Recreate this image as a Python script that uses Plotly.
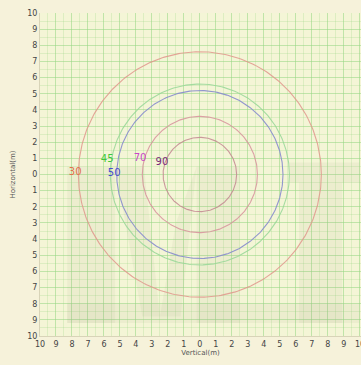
import numpy as np
import plotly.graph_objects as go

# Data
angles_deg = ["30", "45", "50", "70", "90"]
radii = [7.6, 5.6, 5.2, 3.6, 2.3]
circle_colors = ["rgba(225,150,140,0.85)", "rgba(150,215,150,0.85)", "rgba(135,140,205,0.9)",
                 "rgba(215,145,155,0.85)", "rgba(195,135,145,0.85)"]
label_x = [-7.8, -5.8, -5.36, -3.74, -2.37]
label_y = [0.1, 0.93, 0.06, 1.0, 0.75]
label_colors = ["#e0704a", "#3cc83c", "#4a4ad0", "#c848c8", "#7a2a7a"]
tick_vals = list(range(-10, 11))
tick_text = [str(abs(v)) for v in tick_vals]

fig = go.Figure()
theta = np.linspace(0, 2 * np.pi, 361)
for r, c in zip(radii, circle_colors):
    fig.add_trace(go.Scatter(x=r * np.cos(theta), y=r * np.sin(theta), mode="lines",
                             line=dict(color=c, width=1.1), hoverinfo="skip", showlegend=False))

fig.add_trace(go.Scatter(x=label_x, y=label_y, mode="text", text=angles_deg,
                         textfont=dict(color=label_colors, size=10, family="DejaVu Sans"),
                         showlegend=False, hoverinfo="skip"))

# faint watermark ("MT")
wm = "rgba(140,140,120,0.07)"
wm_paths = [
    "M -8.3 0.5 L -5.3 0.5 L -5.3 -9.2 L -8.3 -9.2 Z",
    "M -5.3 0.5 L -3.5 0.5 L -2.5 -8.8 L -3.6 -8.8 Z",
    "M -0.2 0.5 L 2.5 0.5 L 2.5 -9.2 L -0.2 -9.2 Z",
    "M -0.2 0.5 L -1.5 -3.0 L -2.5 -8.8 L -1.2 -8.8 Z",
    "M 5.6 0.75 L 10 0.75 L 10 -0.5 L 5.6 -0.5 Z",
    "M 6.2 -0.5 L 8.9 -0.5 L 8.9 -9.2 L 6.2 -9.2 Z",
    "M -8.3 -8.0 L 10 -8.0 L 10 -9.2 L -8.3 -9.2 Z",
]
for p in wm_paths:
    fig.add_shape(type="path", path=p, xref="x", yref="y", fillcolor=wm,
                  line=dict(width=0), layer="between")

# last x tick label, partially cut at the right edge as in the reference
fig.add_annotation(x=tick_vals[-1], y=0, xref="x", yref="paper", yanchor="top", xanchor="center",
                   yshift=-2, text=tick_text[-1], showarrow=False,
                   font=dict(size=8, color="#444", family="DejaVu Sans"))

grid_col = "rgba(150,215,130,0.40)"
minor_col = "rgba(150,215,130,0.25)"
axis_common = dict(tickvals=tick_vals, ticktext=tick_text, showgrid=True, gridcolor=grid_col,
                   gridwidth=1, zeroline=False, ticks="", showline=True, automargin=False,
                   linecolor="#d8d4b8", linewidth=1,
                   tickfont=dict(size=8, color="#444", family="DejaVu Sans"),
                   minor=dict(dtick=0.5, showgrid=True, gridcolor=minor_col, gridwidth=1))

fig.update_layout(
    width=361, height=365,
    margin=dict(l=40, r=0, t=13, b=29),
    paper_bgcolor="#f6f2da",
    plot_bgcolor="#f4f5d6",
    xaxis=dict(range=[-10, 10.08], title=dict(text="Vertical(m)", font=dict(size=7, color="#555", family="DejaVu Sans"), standoff=0),
               **axis_common),
    yaxis=dict(range=[-10, 10], title=dict(text="Horizontal(m)", font=dict(size=7, color="#555", family="DejaVu Sans"), standoff=10),
               **axis_common),
)

fig.write_html("out.html", config={"displayModeBar": False},
               post_script="document.body.style.margin='0';document.body.style.background='#f6f2da';")
